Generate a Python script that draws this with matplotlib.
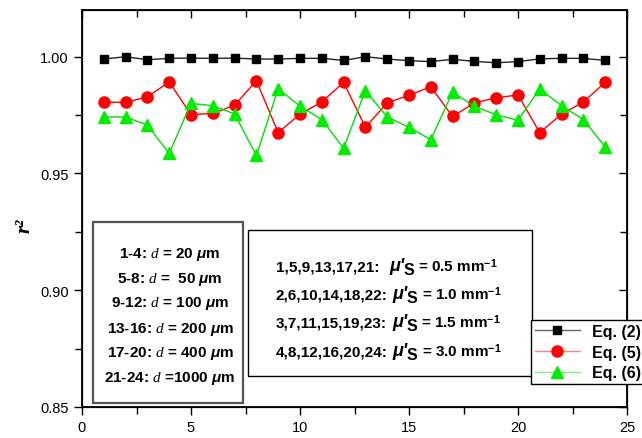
import matplotlib
matplotlib.use("Agg")
import matplotlib.pyplot as plt
from matplotlib.patches import Rectangle
from matplotlib.lines import Line2D
from matplotlib.ticker import MultipleLocator

plt.rcParams['font.family'] = ['Liberation Sans', 'DejaVu Sans']
plt.rcParams['mathtext.fontset'] = 'custom'
plt.rcParams['mathtext.rm'] = 'Liberation Sans'
plt.rcParams['mathtext.bf'] = 'Liberation Sans:bold'
plt.rcParams['mathtext.it'] = 'Liberation Serif:italic'
plt.rcParams['mathtext.bfit'] = 'Liberation Sans:bold:italic'

x = list(range(1, 25))
eq2 = [0.9990, 1.0000, 0.9987, 0.9993, 0.9994, 0.9993, 0.9994, 0.9990,
       0.9990, 0.9993, 0.9993, 0.9984, 1.0000, 0.9990, 0.9983, 0.9979,
       0.9989, 0.9980, 0.9974, 0.9979, 0.9991, 0.9993, 0.9993, 0.9984]
eq5 = [0.9806, 0.9804, 0.9828, 0.9892, 0.9752, 0.9757, 0.9792, 0.9897,
       0.9675, 0.9754, 0.9806, 0.9890, 0.9698, 0.9802, 0.9835, 0.9871,
       0.9744, 0.9802, 0.9824, 0.9836, 0.9675, 0.9754, 0.9806, 0.9890]
eq6 = [0.9742, 0.9742, 0.9707, 0.9586, 0.9800, 0.9790, 0.9755, 0.9577,
       0.9863, 0.9788, 0.9731, 0.9608, 0.9855, 0.9742, 0.9698, 0.9645,
       0.9848, 0.9788, 0.9751, 0.9728, 0.9862, 0.9790, 0.9731, 0.9614]

box1_lines = [r"1-4: $d$ = 20 $\mathbfit{\mu}$m",
              r"5-8: $d$ =  50 $\mathbfit{\mu}$m",
              r"9-12: $d$ = 100 $\mathbfit{\mu}$m",
              r"13-16: $d$ = 200 $\mathbfit{\mu}$m",
              r"17-20: $d$ = 400 $\mathbfit{\mu}$m",
              r"21-24: $d$ =1000 $\mathbfit{\mu}$m"]
box2_groups = ["1,5,9,13,17,21:", "2,6,10,14,18,22:", "3,7,11,15,19,23:", "4,8,12,16,20,24:"]
box2_vals = ["0.5", "1.0", "1.5", "3.0"]
legend_labels = ["Eq. (2)", "Eq. (5)", "Eq. (6)"]

W, H = 642, 439
fig = plt.figure(figsize=(W / 100, H / 100), dpi=100)
ax = fig.add_axes([82 / W, 1 - 408 / H, (627 - 82) / W, (408 - 11) / H])

ax.plot(x, eq2, color='#222222', lw=1.0, marker='s', ms=6, mfc='black', mec='black', zorder=3)
ax.plot(x, eq5, color='red', lw=1.0, marker='o', ms=8, mfc='red', mec='red', zorder=3)
ax.plot(x, eq6, color='#00dd00', lw=1.0, marker='^', ms=9, mfc='#00ee00', mec='#00ee00', zorder=3)

ax.set_xlim(0, 25)
ax.set_ylim(0.85, 1.02)
ax.xaxis.set_major_locator(MultipleLocator(5))
ax.xaxis.set_minor_locator(MultipleLocator(2.5))
ax.yaxis.set_minor_locator(MultipleLocator(0.025))
ax.set_yticks([0.85, 0.90, 0.95, 1.00])
ax.set_yticklabels(["0.85", "0.90", "0.95", "1.00"])
ax.tick_params(axis='both', which='both', direction='out', top=False, right=False,
               labelsize=10.5, width=1.0)
ax.tick_params(which='major', length=6)
ax.tick_params(which='minor', length=5)
for s in ax.spines.values():
    s.set_linewidth(1.3)

ax2 = ax.twinx()
ax2.set_ylim(ax.get_ylim())
ax2.yaxis.set_major_locator(MultipleLocator(0.05))
ax2.yaxis.set_minor_locator(MultipleLocator(0.025))
ax2.tick_params(axis='y', which='both', direction='in', labelright=False, length=6, width=1.0)
ax2.tick_params(axis='y', which='minor', length=5)
ax3 = ax.twiny()
ax3.set_xlim(ax.get_xlim())
ax3.xaxis.set_major_locator(MultipleLocator(5))
ax3.xaxis.set_minor_locator(MultipleLocator(2.5))
ax3.tick_params(axis='x', which='both', direction='in', labeltop=False, length=6, width=1.0)
ax3.tick_params(axis='x', which='minor', length=5)

fig.text(25 / W, 1 - 226 / H, "r²", rotation=90, family='Liberation Serif',
         fontweight='bold', style='italic', fontsize=15, ha='center', va='center')


def px_rect(x0, y0, x1, y1, ec, lw, z):
    r = Rectangle((x0 / W, 1 - y1 / H), (x1 - x0) / W, (y1 - y0) / H,
                  transform=fig.transFigure, facecolor='white', edgecolor=ec,
                  lw=lw, zorder=z)
    fig.add_artist(r)


px_rect(93, 223, 243, 404, '#555555', 1.6, 5)
box1_y = [255, 279, 304, 329, 354, 379]
for t, yy in zip(box1_lines, box1_y):
    fig.text(170 / W, 1 - yy / H, t, fontsize=11, fontweight='bold',
             ha='center', va='center', zorder=6)

px_rect(248, 231, 532, 377, 'black', 1.0, 5)
renderer = fig.canvas.get_renderer()


def put(xp, ybase, s, **kw):
    t = fig.text(xp / W, 1 - ybase / H, s, ha='left', va='baseline', zorder=6, **kw)
    bb = t.get_window_extent(renderer=renderer)
    return bb.x1


box2_base = [272, 300, 328, 357]
for i, (g, v, yb) in enumerate(zip(box2_groups, box2_vals, box2_base)):
    xe = put(276, yb, g, fontsize=11, fontweight='bold')
    gap = 10 if i == 0 else 5
    xe = put(xe + gap, yb - 1, "μ'", fontsize=13, fontweight='bold', style='italic')
    xe = put(xe - 1, yb + 3, "S", fontsize=11.5, fontweight='bold')
    put(xe + 4, yb, "= " + v + r" mm$^{\mathbf{-1}}$", fontsize=11, fontweight='bold')

handles = [Line2D([], [], color='#666666', lw=1, marker='s', ms=6, mfc='black', mec='black'),
           Line2D([], [], color='#ff8080', lw=1, marker='o', ms=8, mfc='red', mec='red'),
           Line2D([], [], color='#80ee80', lw=1, marker='^', ms=9, mfc='#00ee00', mec='#00ee00')]
leg = fig.legend(handles, legend_labels, loc='upper left',
                 bbox_to_anchor=(531 / W, 1 - 321 / H), fancybox=False,
                 edgecolor='black', framealpha=1, borderpad=0.25, labelspacing=0.35,
                 handlelength=2.8, handletextpad=0.8, borderaxespad=0,
                 prop={'weight': 'bold', 'size': 11.5})
leg.get_frame().set_linewidth(1.0)
leg.set_zorder(7)

fig.savefig("out.png", dpi=100)
